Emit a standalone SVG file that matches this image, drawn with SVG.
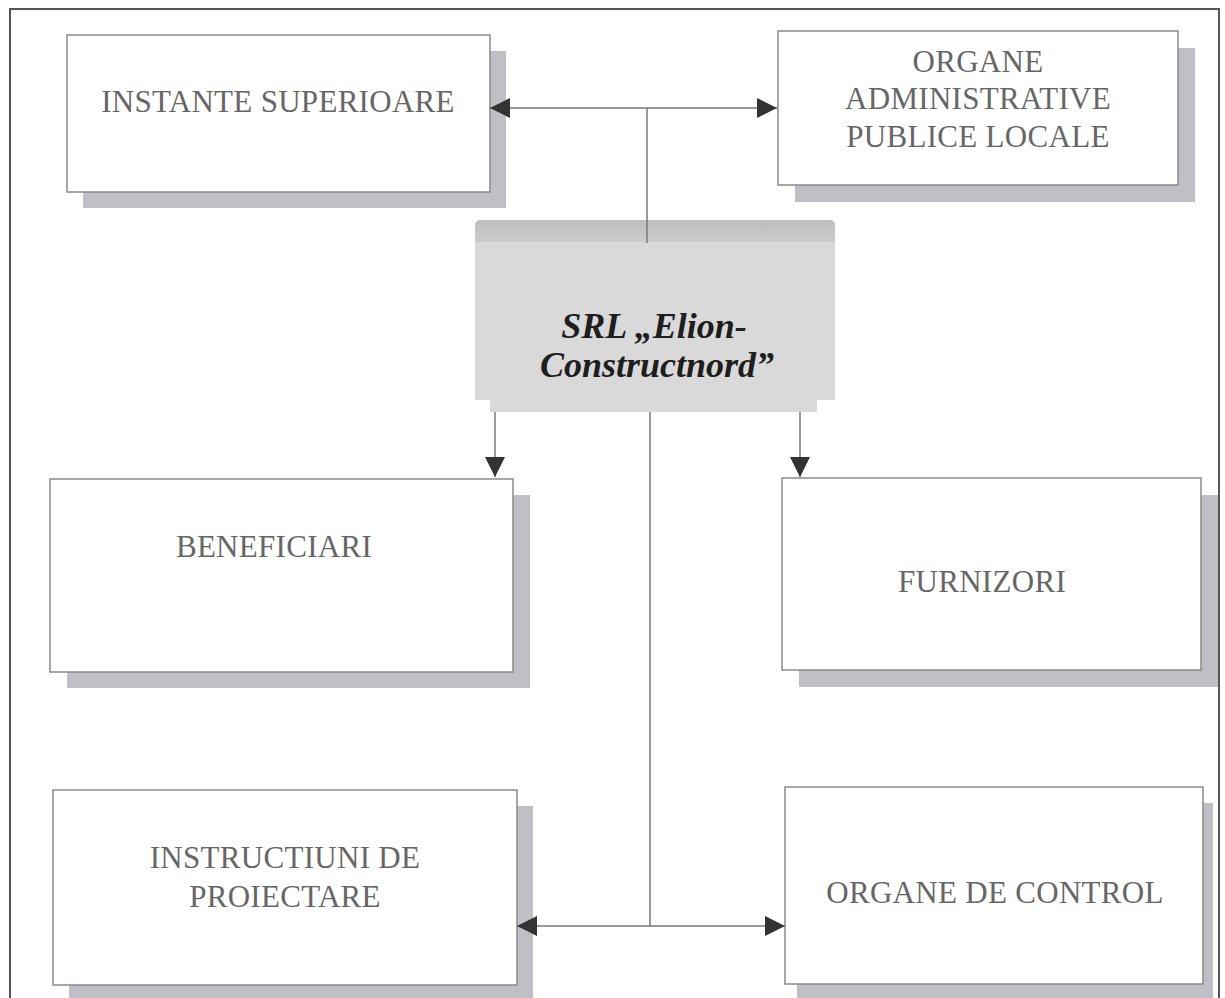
<svg xmlns="http://www.w3.org/2000/svg" width="1225" height="998" viewBox="0 0 1225 998">
  <defs>
    <style>
      .box { fill: #ffffff; stroke: #8a8a8a; stroke-width: 1.5; }
      .shadow { fill: #bfbfc6; }
      .lbl { font-family: "Liberation Serif", "Times New Roman", serif; font-size: 31px; fill: #666666; text-anchor: middle; letter-spacing: 0.3px; }
      .main { font-family: "Liberation Serif", "Times New Roman", serif; font-size: 36px; font-weight: bold; font-style: italic; fill: #1e1e1e; text-anchor: middle; }
      .conn { stroke: #777777; stroke-width: 1.5; fill: none; }
    </style>
    <marker id="arr" markerUnits="userSpaceOnUse" markerWidth="20" markerHeight="20" viewBox="0 0 18 18" refX="18" refY="9" orient="auto-start-reverse">
      <path d="M0,0 L18,9 L0,18 Z" fill="#333333"/>
    </marker>
    <linearGradient id="bevel" x1="0" y1="0" x2="0" y2="1">
      <stop offset="0" stop-color="#bdbdbd"/>
      <stop offset="1" stop-color="#cfcfcf"/>
    </linearGradient>
  </defs>

  <rect width="1225" height="998" fill="#ffffff"/>
  <!-- outer frame -->
  <rect x="10" y="9" width="1209" height="1010" fill="none" stroke="#555555" stroke-width="2"/>

  <g id="instante-superioare">
    <rect class="shadow" x="83" y="51" width="423" height="157"/>
    <rect class="box" x="67" y="35" width="423" height="157"/>
    <text class="lbl" x="278" y="112">INSTANTE SUPERIOARE</text>
  </g>

  <g id="organe-administrative">
    <rect class="shadow" x="795" y="48" width="400" height="154"/>
    <rect class="box" x="778" y="31" width="400" height="154"/>
    <text class="lbl" x="978" y="72">ORGANE</text>
    <text class="lbl" x="978" y="109">ADMINISTRATIVE</text>
    <text class="lbl" x="978" y="147">PUBLICE LOCALE</text>
  </g>

  <g id="srl-elion">
    <rect x="475" y="220" width="360" height="26" rx="5" fill="url(#bevel)"/>
    <rect x="475" y="242" width="360" height="158" fill="#d9d9d9"/>
    <rect x="490" y="398" width="327" height="14" fill="#d9d9d9"/>
    <text class="main" x="654" y="338">SRL „Elion-</text>
    <text class="main" x="657" y="377">Constructnord”</text>
  </g>

  <g id="beneficiari">
    <rect class="shadow" x="67" y="495" width="463" height="193"/>
    <rect class="box" x="50" y="479" width="463" height="193"/>
    <text class="lbl" x="274" y="557">BENEFICIARI</text>
  </g>

  <g id="furnizori">
    <rect class="shadow" x="799" y="495" width="419" height="192"/>
    <rect class="box" x="782" y="478" width="419" height="192"/>
    <text class="lbl" x="982" y="592">FURNIZORI</text>
  </g>

  <g id="instructiuni">
    <rect class="shadow" x="69" y="806" width="464" height="200"/>
    <rect class="box" x="53" y="790" width="464" height="195"/>
    <text class="lbl" x="285" y="868">INSTRUCTIUNI DE</text>
    <text class="lbl" x="285" y="907">PROIECTARE</text>
  </g>

  <g id="organe-control">
    <rect class="shadow" x="797" y="803" width="416" height="200"/>
    <rect class="box" x="785" y="787" width="418" height="197"/>
    <text class="lbl" x="995" y="903">ORGANE DE CONTROL</text>
  </g>

  <!-- connectors -->
  <g id="connectors">
    <line class="conn" x1="647" y1="108" x2="647" y2="243"/>
    <line class="conn" x1="490" y1="108" x2="777" y2="108" marker-start="url(#arr)" marker-end="url(#arr)"/>
    <line class="conn" x1="495" y1="412" x2="495" y2="477" marker-end="url(#arr)"/>
    <line class="conn" x1="800" y1="412" x2="800" y2="477" marker-end="url(#arr)"/>
    <line class="conn" x1="650" y1="412" x2="650" y2="926"/>
    <line class="conn" x1="517" y1="926" x2="785" y2="926" marker-start="url(#arr)" marker-end="url(#arr)"/>
  </g>
</svg>
